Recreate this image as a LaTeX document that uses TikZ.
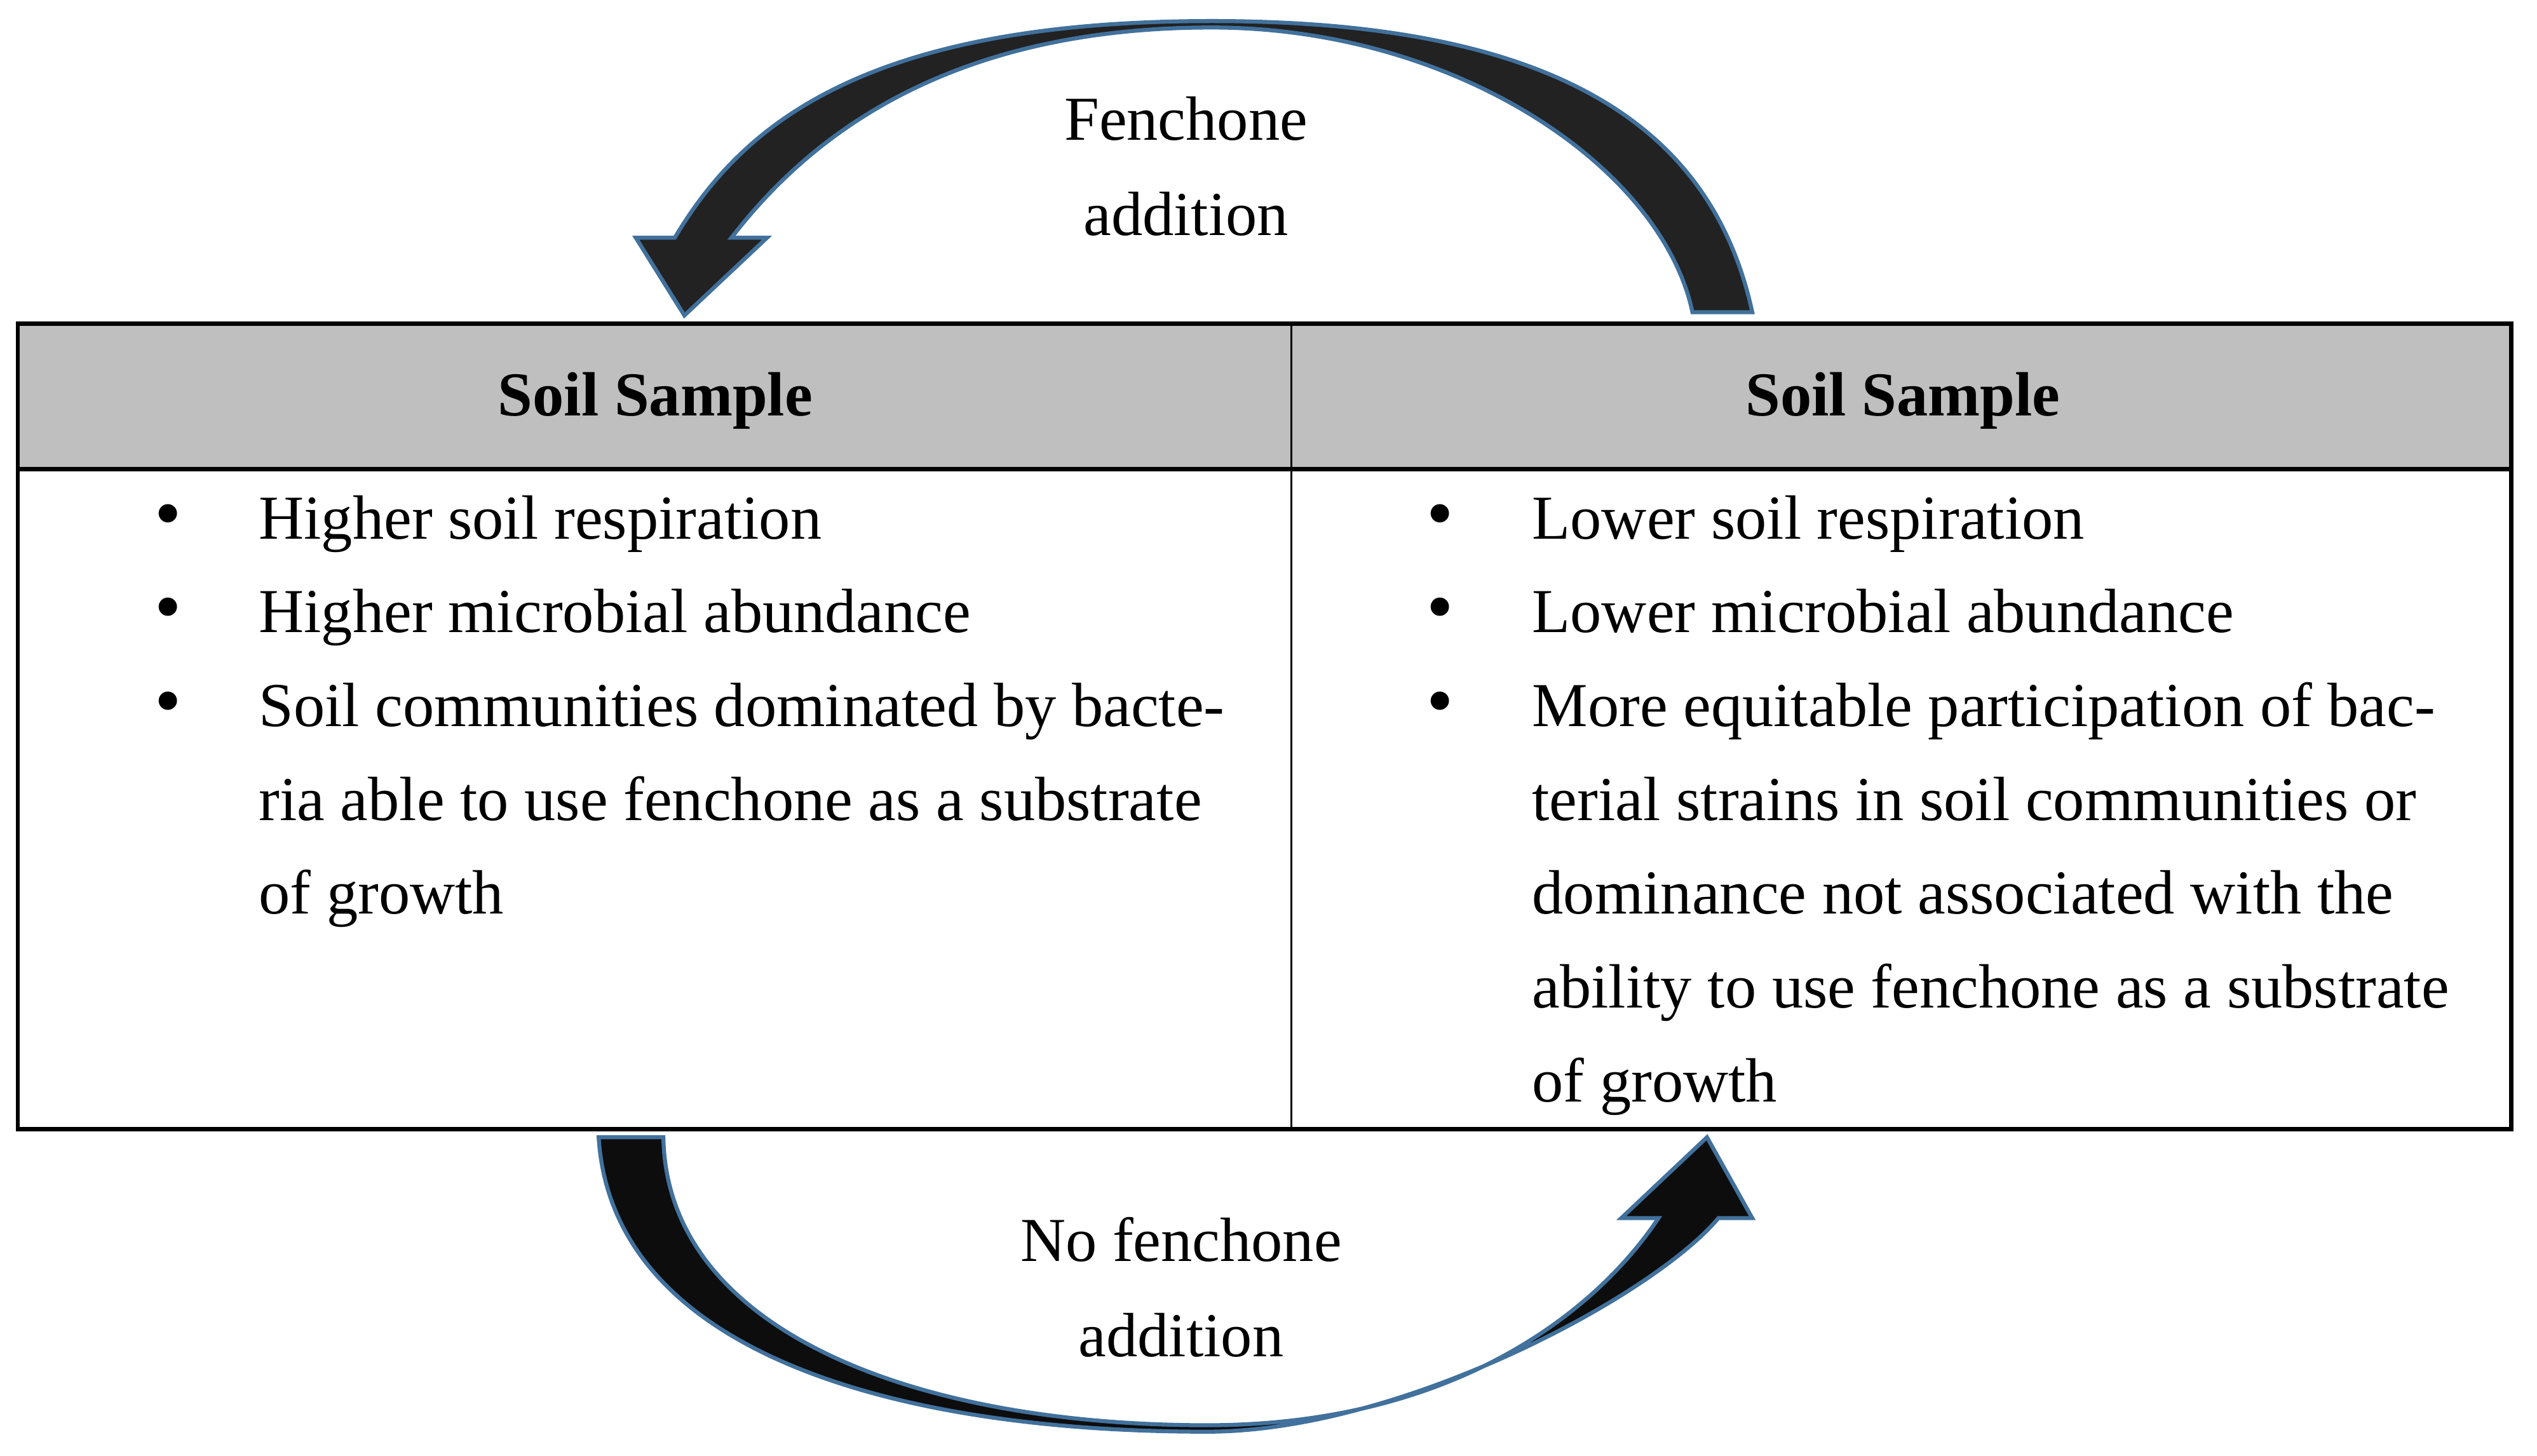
\documentclass[tikz,border=0pt]{standalone}
\usepackage{fontspec}
\setmainfont{Liberation Serif}
\definecolor{hdrgray}{HTML}{BFBFBF}
\definecolor{arrowblue}{HTML}{41719C}
\definecolor{arrowtop}{HTML}{222222}
\definecolor{arrowbot}{HTML}{0D0D0D}
\begin{document}
\begin{tikzpicture}[x=0.02cm,y=-0.02cm,
  txt/.style={font=\fontsize{22}{26}\selectfont, inner sep=0pt, outer sep=0pt, anchor=base west},
  lbl/.style={font=\fontsize{22}{26}\selectfont, inner sep=0pt, outer sep=0pt, anchor=base},
  hdr/.style={font=\fontsize{22}{26}\selectfont\bfseries, inner sep=0pt, anchor=base},
  bul/.style={font=\fontsize{27}{27}\selectfont, inner sep=0pt, anchor=base},
  thickrule/.style={line width=1.5pt},
  thinrule/.style={line width=0.7pt},
  bigarrow/.style={draw=arrowblue, line width=1.4pt, line join=miter}]
\useasboundingbox (0,0) rectangle (1568,900);

% table
\fill[hdrgray] (11,200) rectangle (1552,290);
\draw[thinrule] (798,200) -- (798,698);
\draw[thickrule] (11,290) -- (1552,290);
\draw[thickrule] (11,200) rectangle (1552,698);

% headers
\node[hdr] (hl) at (405,257) {Soil Sample};
\node[hdr] (hr) at (1176,257) {Soil Sample};

% left column
\node[bul] (lb1) at (104,333) {•};
\node[bul] (lb2) at (104,391) {•};
\node[bul] (lb3) at (104,449) {•};
\node[txt] (l1) at (160,333) {Higher soil respiration};
\node[txt] (l2) at (160,391) {Higher microbial abundance};
\node[txt] (l3) at (160,449) {Soil communities dominated by bacte-};
\node[txt] (l4) at (160,507) {ria able to use fenchone as a substrate};
\node[txt] (l5) at (160,565) {of growth};

% right column
\node[bul] (rb1) at (890,333) {•};
\node[bul] (rb2) at (890,391) {•};
\node[bul] (rb3) at (890,449) {•};
\node[txt] (r1) at (947,333) {Lower soil respiration};
\node[txt] (r2) at (947,391) {Lower microbial abundance};
\node[txt] (r3) at (947,449) {More equitable participation of bac-};
\node[txt] (r4) at (947,507) {terial strains in soil communities or};
\node[txt] (r5) at (947,565) {dominance not associated with the};
\node[txt] (r6) at (947,623) {ability to use fenchone as a substrate};
\node[txt] (r7) at (947,681) {of growth};

% top curved arrow (right -> left)
\path[bigarrow, fill=arrowtop] (1083,193) .. controls (1059,83) and (969,13) .. (749,13)
  .. controls (530,13) and (457,80) .. (417,147) -- (393,147) -- (423,195) -- (474,147) -- (452,147)
  .. controls (496,90) and (579,17) .. (749,17)
  .. controls (899,17) and (1027,103) .. (1046,193) -- cycle;
\node[lbl] (f1) at (733,86.5) {Fenchone};
\node[lbl] (f2) at (733,145.5) {addition};

% bottom curved arrow (left -> right)
\path[bigarrow, fill=arrowbot] (370,703) .. controls (378,833) and (546,885) .. (746,885)
  .. controls (866,885) and (1022,801) .. (1062,753) -- (1083,753) -- (1055,703) -- (1002,753) -- (1025,753)
  .. controls (985,813) and (896,881) .. (746,881)
  .. controls (566,881) and (412,823) .. (410,703) -- cycle;
\node[lbl] (n1) at (730,779.5) {No fenchone};
\node[lbl] (n2) at (730,838.5) {addition};
\end{tikzpicture}
\end{document}
